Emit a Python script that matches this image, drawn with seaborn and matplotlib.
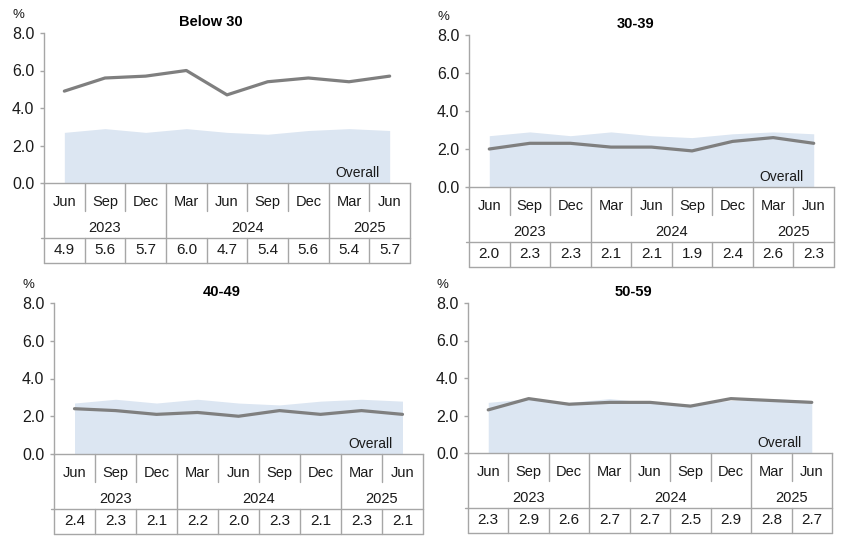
import matplotlib
matplotlib.use("Agg")
import matplotlib.pyplot as plt
import matplotlib.transforms as mtrans
import seaborn as sns
import pandas as pd

# ---- data ----
months = ["Jun", "Sep", "Dec", "Mar", "Jun", "Sep", "Dec", "Mar", "Jun"]
years = ["2023", "2024", "2025"]
year_spans = [3, 4, 2]
overall = [2.7, 2.9, 2.7, 2.9, 2.7, 2.6, 2.8, 2.9, 2.8]
below_30 = [4.9, 5.6, 5.7, 6.0, 4.7, 5.4, 5.6, 5.4, 5.7]
age_30_39 = [2.0, 2.3, 2.3, 2.1, 2.1, 1.9, 2.4, 2.6, 2.3]
age_40_49 = [2.4, 2.3, 2.1, 2.2, 2.0, 2.3, 2.1, 2.3, 2.1]
age_50_59 = [2.3, 2.9, 2.6, 2.7, 2.7, 2.5, 2.9, 2.8, 2.7]
titles = ["Below 30", "30-39", "40-49", "50-59"]
series = [below_30, age_30_39, age_40_49, age_50_59]
yticks = [0, 2, 4, 6, 8]
ytick_labels = ["0.0", "2.0", "4.0", "6.0", "8.0"]

sns.set_style("white")
plt.rcParams["font.family"] = ["Liberation Sans", "DejaVu Sans"]

W, H = 863, 548
fig = plt.figure(figsize=(W / 100, H / 100), dpi=100)

# panel boxes in pixels: left, right, top(8.0), bottom(0.0)
boxes = [(44, 410, 33, 183), (469, 834, 35, 187), (54, 423, 303, 454), (468, 832, 303, 453)]

LINE_C = "#7f7f7f"
AREA_C = "#dce6f2"
GRID_C = "#a6a6a6"
TXT_C = "#1a1a1a"

for (l, r, t, b), title, vals in zip(boxes, titles, series):
    ax = fig.add_axes([l / W, 1 - b / H, (r - l) / W, (b - t) / H])
    hpx = b - t
    df = pd.DataFrame({"idx": range(len(months)), "value": vals, "overall": overall})
    ax.fill_between(df["idx"], 0, df["overall"], color=AREA_C, linewidth=0, zorder=1)
    sns.lineplot(data=df, x="idx", y="value", ax=ax, color=LINE_C, linewidth=2.3, zorder=3)
    ax.set_xlim(-0.5, len(months) - 0.5)
    ax.set_ylim(0, 8)
    ax.set_yticks(yticks)
    ax.set_yticklabels(ytick_labels)
    ax.set_xticks([])
    ax.set_xlabel("")
    ax.set_ylabel("")
    for s in ["top", "right"]:
        ax.spines[s].set_visible(False)
    for s in ["left", "bottom"]:
        ax.spines[s].set_color(GRID_C)
        ax.spines[s].set_linewidth(1.0)
    ax.tick_params(axis="y", length=3, width=1, color=GRID_C, pad=4,
                   labelsize=11.5, labelcolor=TXT_C, left=True, direction="out")

    ax.text(0.455, 1 + 11 / hpx, title, transform=ax.transAxes, ha="center",
            va="center", fontweight="bold", fontsize=10.5, color="black")
    ax.text(-26 / (r - l), 1 + 18 / hpx, "%", transform=ax.transAxes, ha="center",
            va="center", fontsize=9.5, color=TXT_C)
    ax.text(7.75, 0.55, "Overall", ha="right", va="center", fontsize=10, color=TXT_C, zorder=4)

    tr = mtrans.blended_transform_factory(ax.transData, ax.transAxes)
    f = lambda px: -px / hpx
    n = len(months)
    year_bounds = [-0.5]
    acc = -0.5
    for sp in year_spans:
        acc += sp
        year_bounds.append(acc)
    kw = dict(color=GRID_C, linewidth=1.0, transform=tr, clip_on=False)
    for i in range(n + 1):
        xb = i - 0.5
        if xb in year_bounds:
            ax.plot([xb, xb], [0, f(55)], **kw)
        else:
            ax.plot([xb, xb], [0, f(28)], **kw)
        ax.plot([xb, xb], [f(55), f(80)], **kw)
    ax.plot([-0.5 - 3 / ((r - l) / n), n - 0.5], [f(55), f(55)], **kw)
    ax.plot([-0.5, n - 0.5], [f(80), f(80)], **kw)

    for i, m in enumerate(months):
        ax.text(i, f(19), m, transform=tr, ha="center", va="center", fontsize=10.5, color=TXT_C)
        ax.text(i, f(67), f"{vals[i]:.1f}", transform=tr, ha="center", va="center",
                fontsize=11, color=TXT_C)
    for k, yname in enumerate(years):
        cx = (year_bounds[k] + year_bounds[k + 1]) / 2
        ax.text(cx, f(45), yname, transform=tr, ha="center", va="center", fontsize=10.5, color=TXT_C)

fig.savefig("out.png", dpi=100)
